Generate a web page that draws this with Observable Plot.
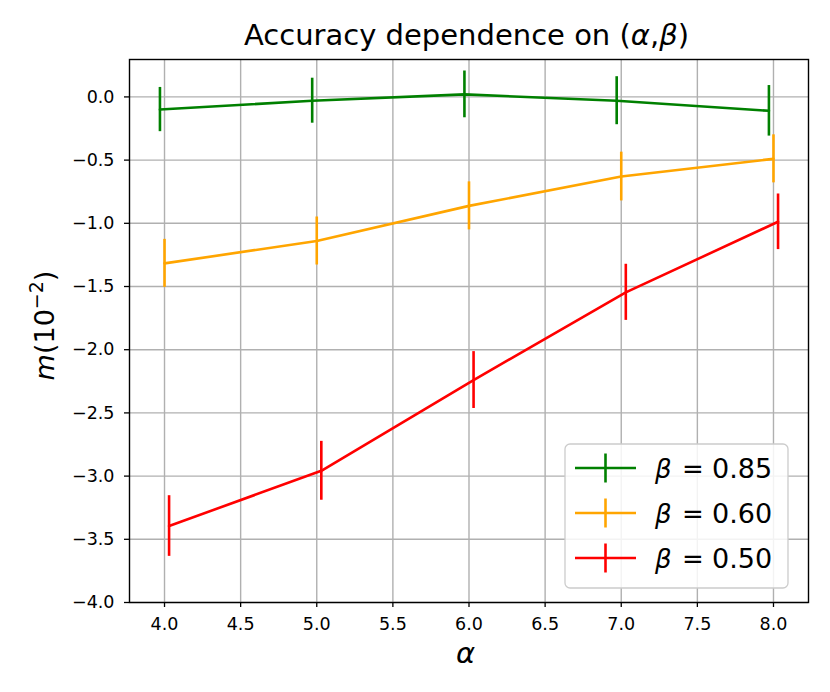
<!DOCTYPE html>
<html>
<head>
<meta charset="utf-8">
<script src="https://cdn.jsdelivr.net/npm/d3@7"></script>
<script src="https://cdn.jsdelivr.net/npm/@observablehq/plot@0.6"></script>
<style>
  html, body { margin: 0; padding: 0; background: #fff; }
  #chart { width: 830px; height: 692px; }
</style>
</head>
<body>
<div id="chart"></div>
<script>
// ---- data ----
const seriesNames = ["β = 0.85", "β = 0.60", "β = 0.50"];
const seriesBeta = ["0.85", "0.60", "0.50"];
const seriesColors = ["green", "orange", "red"];

const xGreen  = [3.97, 4.97, 5.97, 6.97, 7.97];
const yGreen  = [-0.10, -0.03, 0.02, -0.03, -0.11];
const eGreen  = [0.175, 0.178, 0.185, 0.19, 0.20];

const xOrange = [4.00, 5.00, 6.00, 7.00, 8.00];
const yOrange = [-1.317, -1.14, -0.862, -0.63, -0.49];
const eOrange = [0.19, 0.19, 0.19, 0.193, 0.19];

const xRed    = [4.03, 5.03, 6.03, 7.03, 8.03];
const yRed    = [-3.395, -2.958, -2.24, -1.546, -0.988];
const eRed    = [0.24, 0.233, 0.225, 0.222, 0.22];

const xTicks = [4.0, 4.5, 5.0, 5.5, 6.0, 6.5, 7.0, 7.5, 8.0];
const yTicks = [0.0, -0.5, -1.0, -1.5, -2.0, -2.5, -3.0, -3.5, -4.0];

const titleMain = "Accuracy dependence on (";

// ---- build table ----
const xs = [xGreen, xOrange, xRed], ys = [yGreen, yOrange, yRed], es = [eGreen, eOrange, eRed];
const rows = [];
seriesNames.forEach((name, i) => {
  xs[i].forEach((x, j) => rows.push({series: name, x, y: ys[i][j], err: es[i][j], color: seriesColors[i]}));
});

const W = 830, H = 692;
const mL = 129, mR = 22, mT = 59, mB = 90;

const marks = [
  Plot.gridX(xTicks, {stroke: "#b0b0b0", strokeOpacity: 1, strokeWidth: 1.4}),
  Plot.gridY(yTicks, {stroke: "#b0b0b0", strokeOpacity: 1, strokeWidth: 1.4})
];
seriesNames.forEach((name, i) => {
  const d = rows.filter(r => r.series === name);
  marks.push(Plot.line(d, {x: "x", y: "y", stroke: seriesColors[i], strokeWidth: 2.6}));
  marks.push(Plot.ruleX(d, {x: "x", y1: r => r.y - r.err, y2: r => r.y + r.err, stroke: seriesColors[i], strokeWidth: 2.6}));
});
marks.push(Plot.frame({stroke: "black", strokeWidth: 1.4}));
marks.push(Plot.axisX({ticks: xTicks, tickFormat: d3.format(".1f"), tickSize: 5, tickPadding: 10, fontSize: 17.5, label: null, strokeWidth: 1.3}));
marks.push(Plot.axisY({ticks: yTicks, tickFormat: d3.format(".1f"), tickSize: 5, tickPadding: 10, fontSize: 17.5, label: null, strokeWidth: 1.3}));

const chart = Plot.plot({
  width: W, height: H,
  marginLeft: mL, marginRight: mR, marginTop: mT, marginBottom: mB,
  x: {domain: [3.77, 8.23]},
  y: {domain: [-4, 0.296]},
  style: {fontFamily: "DejaVu Sans", fontSize: "17.5px", background: "#fff", color: "#000"},
  marks
});
document.getElementById("chart").appendChild(chart);

// ---- title, axis labels and legend ----
const svg = d3.select(chart);
const cx = mL + (W - mL - mR) / 2;
const cy = mT + (H - mT - mB) / 2;

const tt = svg.append("text")
  .attr("x", cx - 2).attr("y", 45)
  .attr("text-anchor", "middle")
  .attr("font-family", "DejaVu Sans").attr("font-size", 29).attr("fill", "#000");
tt.append("tspan").text(titleMain);
tt.append("tspan").attr("font-style", "italic").text("α");
tt.append("tspan").text(",");
tt.append("tspan").attr("font-style", "italic").text("β");
tt.append("tspan").text(")");

svg.append("text")
  .attr("x", cx - 3).attr("y", 663)
  .attr("text-anchor", "middle")
  .attr("font-family", "DejaVu Sans").attr("font-style", "italic").attr("font-size", 29).attr("fill", "#000")
  .text("α");

const yl = svg.append("text")
  .attr("transform", `translate(54,${cy - 5}) rotate(-90)`)
  .attr("text-anchor", "middle")
  .attr("font-family", "DejaVu Sans").attr("font-size", 27).attr("fill", "#000");
yl.append("tspan").attr("font-style", "italic").text("m");
yl.append("tspan").text("(10");
yl.append("tspan").attr("font-size", 19).attr("dy", -11).text("−2");
yl.append("tspan").attr("dy", 11).text(")");

// legend
const lg = svg.append("g");
lg.append("rect")
  .attr("x", 565).attr("y", 444).attr("width", 223).attr("height", 144)
  .attr("rx", 5).attr("fill", "#fff").attr("fill-opacity", 0.85)
  .attr("stroke", "#cccccc").attr("stroke-width", 1.3);
seriesNames.forEach((name, i) => {
  const yc = 468 + i * 45;
  lg.append("line").attr("x1", 575).attr("x2", 636).attr("y1", yc).attr("y2", yc)
    .attr("stroke", seriesColors[i]).attr("stroke-width", 2.6);
  lg.append("line").attr("x1", 605.5).attr("x2", 605.5).attr("y1", yc - 14.5).attr("y2", yc + 14.5)
    .attr("stroke", seriesColors[i]).attr("stroke-width", 2.6);
  const base = yc + 9.8;
  lg.append("text").attr("x", 655).attr("y", base).attr("text-anchor", "start")
    .attr("font-family", "DejaVu Sans").attr("font-style", "italic").attr("font-size", 26).attr("fill", "#000")
    .text("β");
  lg.append("text").attr("x", 693).attr("y", base).attr("text-anchor", "middle")
    .attr("font-family", "DejaVu Sans").attr("font-size", 26).attr("fill", "#000")
    .text("=");
  lg.append("text").attr("x", 712).attr("y", base).attr("text-anchor", "start")
    .attr("font-family", "DejaVu Sans").attr("font-size", 27).attr("fill", "#000")
    .text(seriesBeta[i]);
});
</script>
</body>
</html>
